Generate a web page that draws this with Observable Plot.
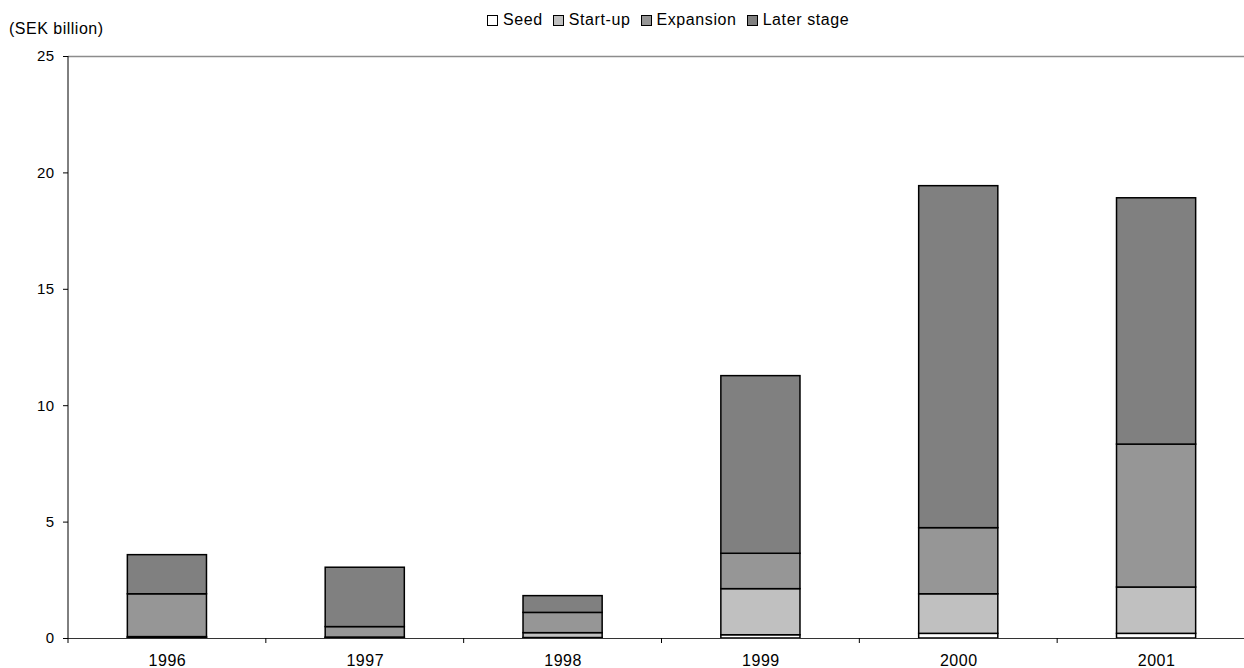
<!DOCTYPE html>
<html>
<head>
<meta charset="utf-8">
<script src="https://cdn.jsdelivr.net/npm/d3@7"></script>
<script src="https://cdn.jsdelivr.net/npm/@observablehq/plot@0.6"></script>
<style>
  html, body { margin: 0; padding: 0; background: #fff; overflow: hidden; }
  #wrap { position: relative; width: 1244px; height: 668px; font-family: "Liberation Sans", Arial, sans-serif; }
  #unit { position: absolute; left: 9px; top: 20px; font-size: 16px; letter-spacing: 0.5px; color: #000; }
  #legend { position: absolute; left: 487px; top: 11px; display: flex; font-size: 16px; letter-spacing: 0.6px; color: #000; white-space: nowrap; }
  #legend .item { display: flex; align-items: center; margin-right: 10px; }
  #legend .sw { width: 9px; height: 9px; border: 1px solid #000; margin-right: 5px; }
  .xlab text { letter-spacing: 0.5px; }
  .ylab text { letter-spacing: 0.4px; }
</style>
</head>
<body>
<div id="wrap">
  <div id="unit">(SEK billion)</div>
  <div id="legend"></div>
  <div id="chart"></div>
</div>
<script>
// Venture capital investments by stage, SEK billion
const years = ["1996", "1997", "1998", "1999", "2000", "2001"];
const stages = ["Seed", "Start-up", "Expansion", "Later stage"];
const seed      = [0.02, 0.01, 0.02, 0.14, 0.20, 0.20];
const startUp   = [0.04, 0.03, 0.21, 1.98, 1.70, 1.99];
const expansion = [1.84, 0.45, 0.87, 1.52, 2.84, 6.14];
const laterStage = [1.68, 2.55, 0.72, 7.63, 14.69, 10.58];
const stageColors = ["#ffffff", "#c0c0c0", "#969696", "#808080"];
const yTicks = [0, 5, 10, 15, 20, 25];

const series = [seed, startUp, expansion, laterStage];
const rows = years.flatMap((year, i) =>
  stages.map((stage, s) => ({year, stage, value: series[s][i]}))
);

// Legend row
const legend = document.getElementById("legend");
stages.forEach((stage, s) => {
  const item = document.createElement("div");
  item.className = "item";
  const sw = document.createElement("div");
  sw.className = "sw";
  sw.style.background = stageColors[s];
  const label = document.createElement("span");
  label.textContent = stage;
  item.append(sw, label);
  legend.append(item);
});

// Category separators on the x axis and the left axis line
function axisFrame(index, scales) {
  const {x, y} = scales;
  const half = (x.step() - x.bandwidth()) / 2;
  const edges = x.domain().map(d => x(d) - half);
  edges.push(x(x.domain().at(-1)) + x.bandwidth() + half);
  const g = d3.create("svg:g").attr("stroke", "#000").attr("stroke-width", 1);
  const y0 = y(0);
  g.selectAll("line.tick").data(edges).join("line")
    .attr("x1", d => d).attr("x2", d => d)
    .attr("y1", y0).attr("y2", y0 + 5);
  const xl = x.range()[0];
  g.append("line").attr("x1", xl).attr("x2", xl)
    .attr("y1", y(yTicks.at(-1))).attr("y2", y0);
  return g.node();
}

const chart = Plot.plot({
  width: 1244,
  height: 668,
  marginTop: 56,
  marginBottom: 30,
  marginLeft: 68,
  marginRight: 0,
  style: {fontFamily: "'Liberation Sans', Arial, sans-serif", fontSize: "15px", background: "transparent", overflow: "hidden"},
  x: {domain: years, range: [68, 1255], paddingInner: 0.6, paddingOuter: 0.3, round: false, label: null},
  y: {domain: [0, 25], label: null},
  color: {domain: stages, range: stageColors},
  marks: [
    Plot.ruleY([yTicks.at(-1)], {stroke: "#8c8c8c", strokeWidth: 1.5}),
    Plot.barY(rows, Plot.stackY({
      x: "year",
      y: "value",
      fill: "stage",
      order: stages,
      stroke: "#000",
      strokeWidth: 1.5
    })),
    Plot.ruleY([0], {stroke: "#333", strokeWidth: 1.2}),
    axisFrame,
    Plot.axisY({ticks: yTicks, tickSize: 5, tickPadding: 9, fontSize: 15, stroke: "#000", color: "#000", label: null, className: "ylab"}),
    Plot.axisX({tickSize: 0, tickPadding: 16, fontSize: 16, color: "#000", label: null, className: "xlab"})
  ]
});
document.getElementById("chart").append(chart);
</script>
</body>
</html>
